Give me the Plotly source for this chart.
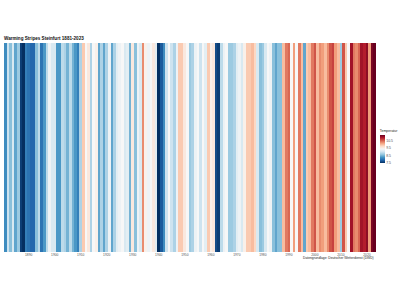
import plotly.graph_objects as go

years = list(range(1881, 2024))
temps = [
    8.2, 9.0, 8.6, 9.1, 8.4, 8.7, 7.6, 7.5, 8.1, 8.0,   # 1881-1890
    7.9, 7.9, 8.6, 8.9, 8.0, 8.3, 8.9, 9.3, 9.1, 9.1,   # 1891-1900
    8.3, 8.3, 8.9, 8.8, 8.5, 8.9, 8.5, 8.3, 8.1, 8.8,   # 1901-1910
    9.9, 9.4, 9.6, 8.8, 9.4, 9.5, 8.4, 8.8, 8.4, 8.8,   # 1911-1920
    9.3, 8.4, 8.8, 9.2, 9.3, 9.4, 9.1, 9.2, 8.5, 9.6,   # 1921-1930
    8.6, 9.3, 9.1, 10.3, 9.5, 9.3, 9.4, 9.6, 9.2, 7.5,  # 1931-1940
    7.8, 8.2, 9.0, 9.4, 9.0, 8.8, 9.3, 9.9, 9.9, 9.6,   # 1941-1950
    9.4, 8.7, 8.8, 9.3, 9.4, 9.0, 9.4, 9.2, 9.9, 9.5,   # 1951-1960
    9.6, 7.7, 7.6, 8.9, 9.3, 9.4, 8.7, 8.7, 8.8, 9.2,   # 1961-1970
    9.3, 9.1, 9.5, 9.9, 9.9, 10.0, 9.8, 9.1, 8.6, 8.7,  # 1971-1980
    9.1, 9.4, 9.3, 8.6, 8.4, 8.6, 8.6, 10.0, 10.4, 10.5,  # 1981-1990
    9.4, 10.2, 9.4, 10.4, 10.0, 8.4, 9.9, 10.0, 10.4, 10.6,  # 1991-2000
    10.0, 10.3, 10.2, 10.0, 10.3, 10.6, 10.7, 10.2, 10.0, 8.7,  # 2001-2010
    10.6, 9.9, 9.4, 11.0, 10.4, 10.3, 10.5, 11.0, 10.9, 11.1,  # 2011-2020
    10.2, 11.2, 11.3,  # 2021-2023
]

tick_years = list(range(1890, 2021, 10))
legend_ticks = [7.5, 8.5, 9.5, 10.5]

title_text = "Warming Stripes Steinfurt 1881-2023"
caption_text = "Datengrundlage: Deutscher Wetterdienst (DWD)"
legend_title = "Temperatur"

rdbu_r = ["#053061", "#2166ac", "#4393c3", "#92c5de", "#d1e5f0", "#f7f7f7",
          "#fddbc7", "#f4a582", "#d6604d", "#b2182b", "#67001f"]
colorscale = [[i / (len(rdbu_r) - 1), c] for i, c in enumerate(rdbu_r)]

# plot area spans y = 43 .. 252 px (209 px tall)
fig = go.Figure(go.Heatmap(
    x=years,
    y=[0],
    z=[temps],
    colorscale=colorscale,
    zmin=min(temps),
    zmax=max(temps),
    showscale=True,
    colorbar=dict(
        title=dict(text=legend_title, side="top", font=dict(size=3.5, color="#222")),
        thickness=5,
        lenmode="pixels",
        len=37,
        x=1.01,
        xanchor="left",
        y=(252 - 163) / 209,
        yanchor="bottom",
        xpad=0,
        ypad=0,
        outlinewidth=0,
        tickvals=legend_ticks,
        ticktext=[f"{v:.1f}" for v in legend_ticks],
        tickfont=dict(size=3.5, color="#555"),
        ticks="",
    ),
    hoverinfo="x+z",
))

fig.update_layout(
    width=400,
    height=300,
    margin=dict(l=4, r=24, t=43, b=48, autoexpand=False),
    paper_bgcolor="white",
    plot_bgcolor="white",
    font=dict(family="Liberation Sans, Arial, sans-serif"),
    title=dict(
        text="<b>" + title_text + "</b>",
        x=4 / 400,
        xanchor="left",
        xref="container",
        y=1 - 38 / 300,
        yanchor="middle",
        yref="container",
        font=dict(size=4.6, color="#111"),
    ),
    xaxis=dict(
        tickvals=tick_years,
        ticktext=[str(y) for y in tick_years],
        tickfont=dict(size=3.3, color="#555"),
        showgrid=False,
        zeroline=False,
        showline=False,
        ticks="",
        ticklen=0,
        range=[years[0] - 0.5, years[-1] + 0.5],
    ),
    yaxis=dict(visible=False, range=[-0.5, 0.5]),
    annotations=[dict(
        text=caption_text,
        xref="paper",
        yref="paper",
        x=1,
        y=-(258 - 252) / 209,
        xanchor="right",
        yanchor="middle",
        showarrow=False,
        font=dict(size=3.3, color="#222"),
    )],
)

fig.write_html("out.html")
